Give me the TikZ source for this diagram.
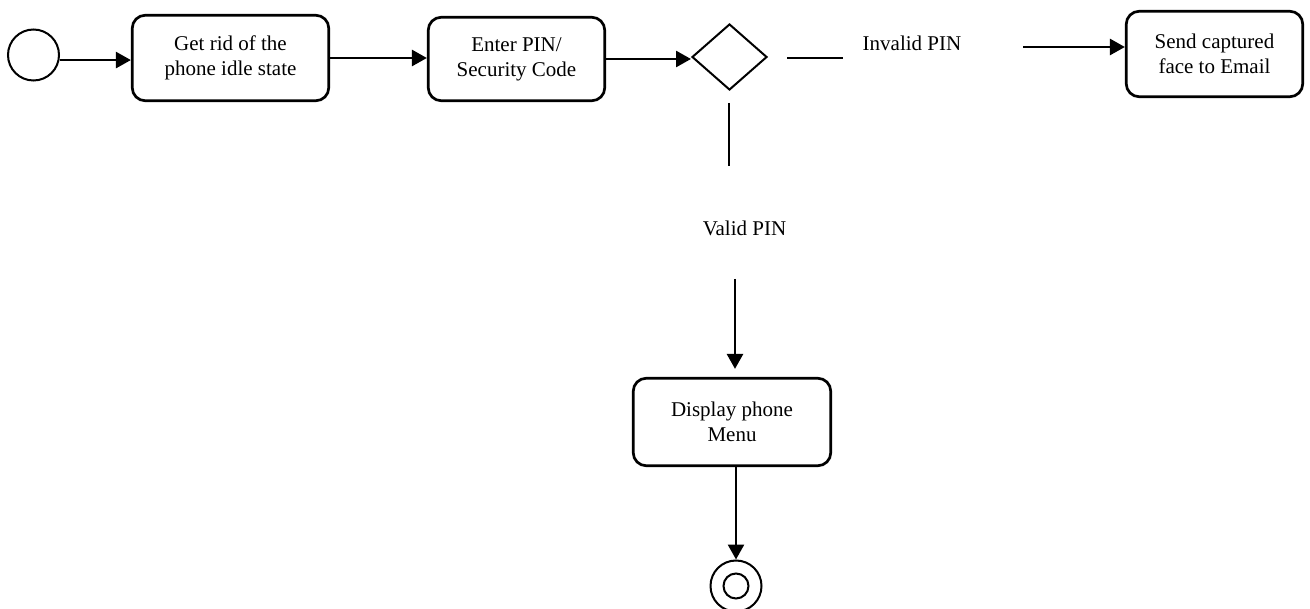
\documentclass[tikz,border=0pt]{standalone}
\usepackage{fontspec}
\setmainfont{Liberation Serif}
\usetikzlibrary{arrows.meta,shapes.geometric,calc}
\begin{document}
\begin{tikzpicture}[x=1pt,y=-1pt,
  act/.style={draw, line width=2.7pt, rounded corners=13pt, align=center, inner sep=0pt, font=\fontsize{21pt}{25pt}\selectfont},
  flow/.style={line width=2.7pt, -{Triangle[length=15pt,width=16pt]}},
  plain/.style={line width=2pt},
  lbl/.style={font=\fontsize{21pt}{25pt}\selectfont, inner sep=0pt},
  state/.style={circle, draw, line width=2pt, inner sep=0pt}]
\useasboundingbox (0,0) rectangle (1310,609);
\node[state, minimum size=51pt] (start) at (33.5,55) {};
\node[act, minimum width=196.5pt, minimum height=85.5pt] (b1) at (230.5,58) {Get rid of the\\phone idle state};
\node[act, minimum width=176.5pt, minimum height=83.5pt] (b2) at (516.5,59) {Enter PIN/\\Security Code};
\node[diamond, draw, line width=2pt, minimum width=75pt, minimum height=66pt, inner sep=0pt] (d) at (729.5,57) {};
\node[act, minimum width=176.5pt, minimum height=85.5pt] (b3) at (1214.5,54) {Send captured\\face to Email};
\node[act, minimum width=197.5pt, minimum height=87.5pt] (b4) at (732,422) {Display phone\\Menu};
\node[state, minimum size=51pt] (end) at (736,586) {};
\node[state, minimum size=25pt] (endin) at (736,586) {};
\node[lbl, anchor=base] (inv) at (912,51) {Invalid PIN};
\node[lbl, anchor=base] (val) at (744.5,236) {Valid PIN};
\coordinate (l1a) at (787,58);
\coordinate (l1b) at (843,58);
\coordinate (ia) at (1023,47);
\coordinate (v1a) at (729,103);
\coordinate (v1b) at (729,166);
\coordinate (va) at (735,279);
\draw[flow] (start.-11) -- (start.-11 -| b1.west);
\draw[flow] (b1.east) -- (b1.east -| b2.west);
\draw[flow] (b2.east) -- (b2.east -| d.west);
\draw[plain] (l1a) -- (l1b);
\draw[flow] (ia) -- (ia -| b3.west);
\draw[plain] (v1a) -- (v1b);
\draw[flow] (va) -- ([yshift=8pt]va |- b4.north);
\draw[flow] (end.north |- b4.south) -- (end.north);
\end{tikzpicture}
\end{document}
